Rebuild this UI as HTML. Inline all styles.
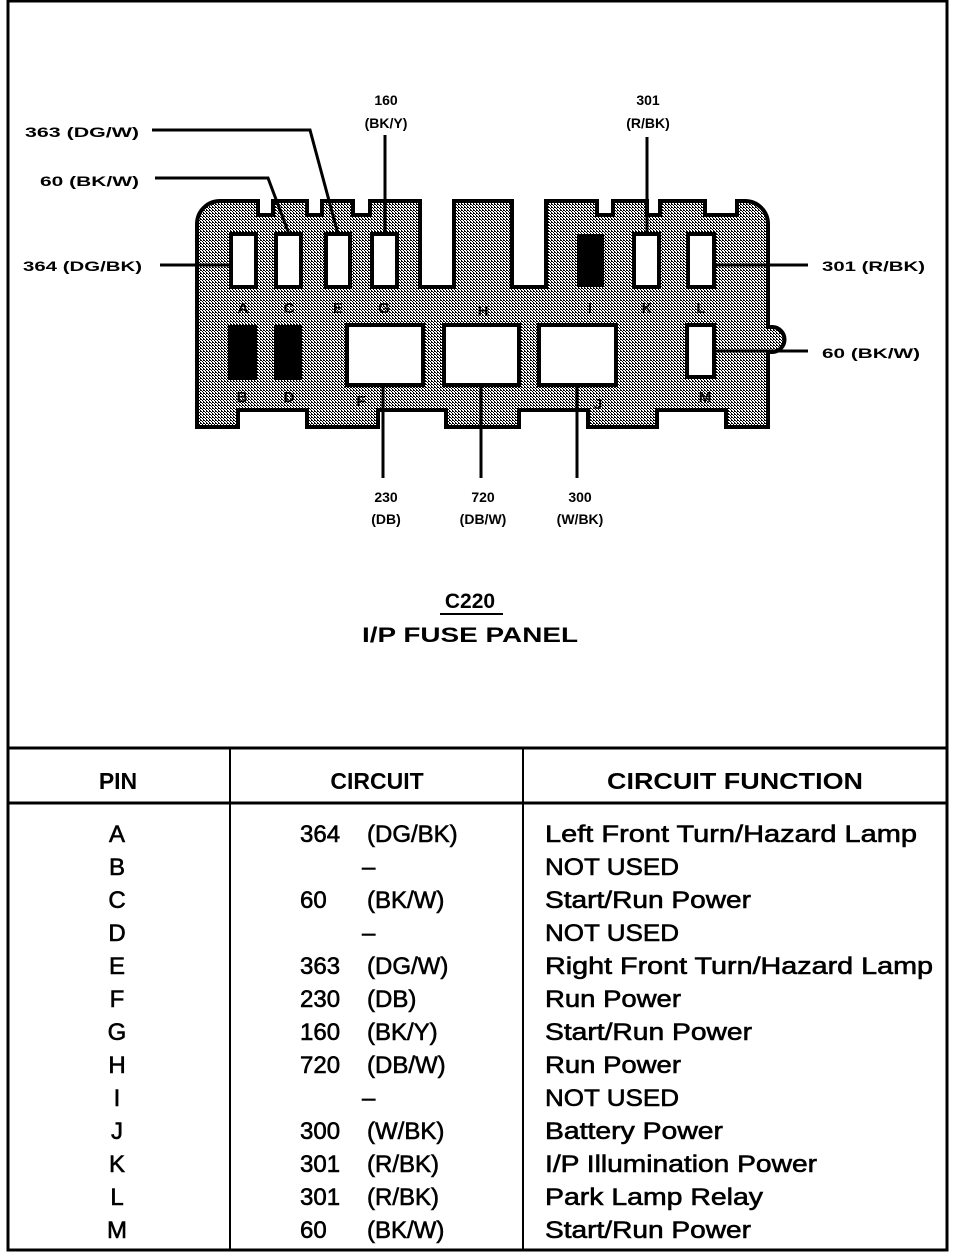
<!DOCTYPE html>
<html><head><meta charset="utf-8"><style>
html,body{margin:0;padding:0;background:#fff}
svg{display:block}
text{font-family:"Liberation Sans",sans-serif;fill:#000}
.l{font-size:14px;font-weight:bold}
.t{font-size:24px;stroke:#000;stroke-width:0.6}
.h{font-size:23px;font-weight:bold}
</style></head><body>
<svg width="960" height="1256" viewBox="0 0 960 1256" xmlns="http://www.w3.org/2000/svg">
<defs>
<pattern id="st" width="3" height="3" patternUnits="userSpaceOnUse">
<rect width="3" height="3" fill="#fff"/><rect width="1" height="1" fill="#000"/><rect x="1" y="1" width="1" height="1" fill="#000"/><rect x="2" y="2" width="1" height="1" fill="#000"/><rect x="2" y="0" width="1" height="1" fill="#000"/>
</pattern>
</defs>
<rect x="0" y="0" width="960" height="1256" fill="#fff"/>
<rect x="8" y="1" width="939" height="1249" fill="none" stroke="#000" stroke-width="3"/>
<line x1="8" y1="748" x2="947" y2="748" stroke="#000" stroke-width="3"/>
<line x1="8" y1="803" x2="947" y2="803" stroke="#000" stroke-width="3"/>
<line x1="230" y1="748" x2="230" y2="1250" stroke="#000" stroke-width="2"/>
<line x1="523" y1="748" x2="523" y2="1250" stroke="#000" stroke-width="2"/>

<path d="M197 224 A23 23 0 0 1 220 201 H258 V215 H273 V201 H307 V215 H322 V201 H353 V215 H370 V201 H420 V287 H454 V201 H512 V287 H546 V201 H597 V215 H613 V201 H647 V215 H660 V201 H705 V215 H737 V201 H745 A23 23 0 0 1 768 224 V327 H772 A12.5 12.5 0 0 1 772 352 H768 V427 H726 V410 H657 V427 H588 V410 H519 V427 H446 V410 H378 V427 H307 V410 H238 V427 H197 Z" fill="url(#st)" stroke="#000" stroke-width="4"/>

<g fill="#fff" stroke="#000" stroke-width="4">
<rect x="231" y="234" width="25" height="53"/>
<rect x="276" y="234" width="25" height="53"/>
<rect x="326" y="234" width="24" height="53"/>
<rect x="372" y="234" width="25" height="53"/>
<rect x="634" y="234" width="25" height="53"/>
<rect x="688" y="234" width="26" height="53"/>
<rect x="347" y="325" width="76" height="60"/>
<rect x="444" y="325" width="75" height="60"/>
<rect x="539" y="325" width="77" height="60"/>
<rect x="687" y="325" width="27" height="52"/>
</g>
<g fill="#000">
<rect x="577" y="234" width="27" height="53"/>
<rect x="228" y="325" width="29" height="55"/>
<rect x="274" y="325" width="28" height="55"/>
</g>
<g font-weight="bold" font-size="15" text-anchor="middle" style="fill:#222">
<text x="243" y="313">A</text><text x="289" y="313">C</text><text x="338" y="313">E</text><text x="384" y="313">G</text>
<text x="483" y="316">H</text><text x="590" y="313">I</text><text x="647" y="313">K</text><text x="701" y="313">L</text>
<text x="242" y="402">B</text><text x="289" y="402">D</text><text x="361" y="406">F</text><text x="598" y="409">J</text><text x="705" y="402">M</text>
</g>

<g stroke="#000" stroke-width="3" fill="none">
<polyline points="152,130 310,130 338,234"/>
<polyline points="155,178 268,178 289,234"/>
<line x1="385" y1="135" x2="385" y2="234"/>
<line x1="647" y1="137" x2="647" y2="234"/>
<line x1="160" y1="265" x2="231" y2="265"/>
<line x1="714" y1="265" x2="808" y2="265"/>
<line x1="714" y1="351" x2="808" y2="351"/>
<line x1="383" y1="385" x2="383" y2="478"/>
<line x1="481" y1="385" x2="481" y2="478"/>
<line x1="577" y1="385" x2="577" y2="478"/>
</g>

<g class="l">
<text x="25" y="137" textLength="114" lengthAdjust="spacingAndGlyphs">363 (DG/W)</text>
<text x="40" y="186" textLength="99" lengthAdjust="spacingAndGlyphs">60  (BK/W)</text>
<text x="23" y="271" textLength="119" lengthAdjust="spacingAndGlyphs">364 (DG/BK)</text>
<text x="822" y="271" textLength="103" lengthAdjust="spacingAndGlyphs">301 (R/BK)</text>
<text x="822" y="358" textLength="98" lengthAdjust="spacingAndGlyphs">60  (BK/W)</text>
</g>
<g class="l" text-anchor="middle">
<text x="386" y="105">160</text><text x="386" y="128">(BK/Y)</text>
<text x="648" y="105">301</text><text x="648" y="128">(R/BK)</text>
<text x="386" y="502">230</text><text x="386" y="524">(DB)</text>
<text x="483" y="502">720</text><text x="483" y="524">(DB/W)</text>
<text x="580" y="502">300</text><text x="580" y="524">(W/BK)</text>
</g>

<text x="470" y="608" text-anchor="middle" font-size="21" font-weight="bold">C220</text>
<line x1="440" y1="614" x2="503" y2="614" stroke="#000" stroke-width="2"/>
<text x="470" y="642" text-anchor="middle" font-size="21" font-weight="bold" textLength="216" lengthAdjust="spacingAndGlyphs">I/P FUSE PANEL</text>

<g class="h" text-anchor="middle">
<text x="118" y="789">PIN</text>
<text x="377" y="789">CIRCUIT</text>
<text x="735" y="789" textLength="256" lengthAdjust="spacingAndGlyphs">CIRCUIT FUNCTION</text>
</g>

<g class="t">
<g text-anchor="middle">
<text x="117" y="842">A</text><text x="117" y="875">B</text><text x="117" y="908">C</text><text x="117" y="941">D</text>
<text x="117" y="974">E</text><text x="117" y="1007">F</text><text x="117" y="1040">G</text><text x="117" y="1073">H</text>
<text x="117" y="1106">I</text><text x="117" y="1139">J</text><text x="117" y="1172">K</text><text x="117" y="1205">L</text>
<text x="117" y="1238">M</text>
</g>
<text x="300" y="842">364</text><text x="367" y="842">(DG/BK)</text>
<text x="362" y="875">–</text>
<text x="300" y="908">60</text><text x="367" y="908">(BK/W)</text>
<text x="362" y="941">–</text>
<text x="300" y="974">363</text><text x="367" y="974">(DG/W)</text>
<text x="300" y="1007">230</text><text x="367" y="1007">(DB)</text>
<text x="300" y="1040">160</text><text x="367" y="1040">(BK/Y)</text>
<text x="300" y="1073">720</text><text x="367" y="1073">(DB/W)</text>
<text x="362" y="1106">–</text>
<text x="300" y="1139">300</text><text x="367" y="1139">(W/BK)</text>
<text x="300" y="1172">301</text><text x="367" y="1172">(R/BK)</text>
<text x="300" y="1205">301</text><text x="367" y="1205">(R/BK)</text>
<text x="300" y="1238">60</text><text x="367" y="1238">(BK/W)</text>

<text x="545" y="842" textLength="372" lengthAdjust="spacingAndGlyphs">Left Front Turn/Hazard Lamp</text>
<text x="545" y="875" textLength="134" lengthAdjust="spacingAndGlyphs">NOT USED</text>
<text x="545" y="908" textLength="206" lengthAdjust="spacingAndGlyphs">Start/Run Power</text>
<text x="545" y="941" textLength="134" lengthAdjust="spacingAndGlyphs">NOT USED</text>
<text x="545" y="974" textLength="388" lengthAdjust="spacingAndGlyphs">Right Front Turn/Hazard Lamp</text>
<text x="545" y="1007" textLength="136" lengthAdjust="spacingAndGlyphs">Run Power</text>
<text x="545" y="1040" textLength="207" lengthAdjust="spacingAndGlyphs">Start/Run Power</text>
<text x="545" y="1073" textLength="136" lengthAdjust="spacingAndGlyphs">Run Power</text>
<text x="545" y="1106" textLength="134" lengthAdjust="spacingAndGlyphs">NOT USED</text>
<text x="545" y="1139" textLength="178" lengthAdjust="spacingAndGlyphs">Battery Power</text>
<text x="545" y="1172" textLength="272" lengthAdjust="spacingAndGlyphs">I/P Illumination Power</text>
<text x="545" y="1205" textLength="218" lengthAdjust="spacingAndGlyphs">Park Lamp Relay</text>
<text x="545" y="1238" textLength="206" lengthAdjust="spacingAndGlyphs">Start/Run Power</text>
</g>
</svg>
</body></html>
